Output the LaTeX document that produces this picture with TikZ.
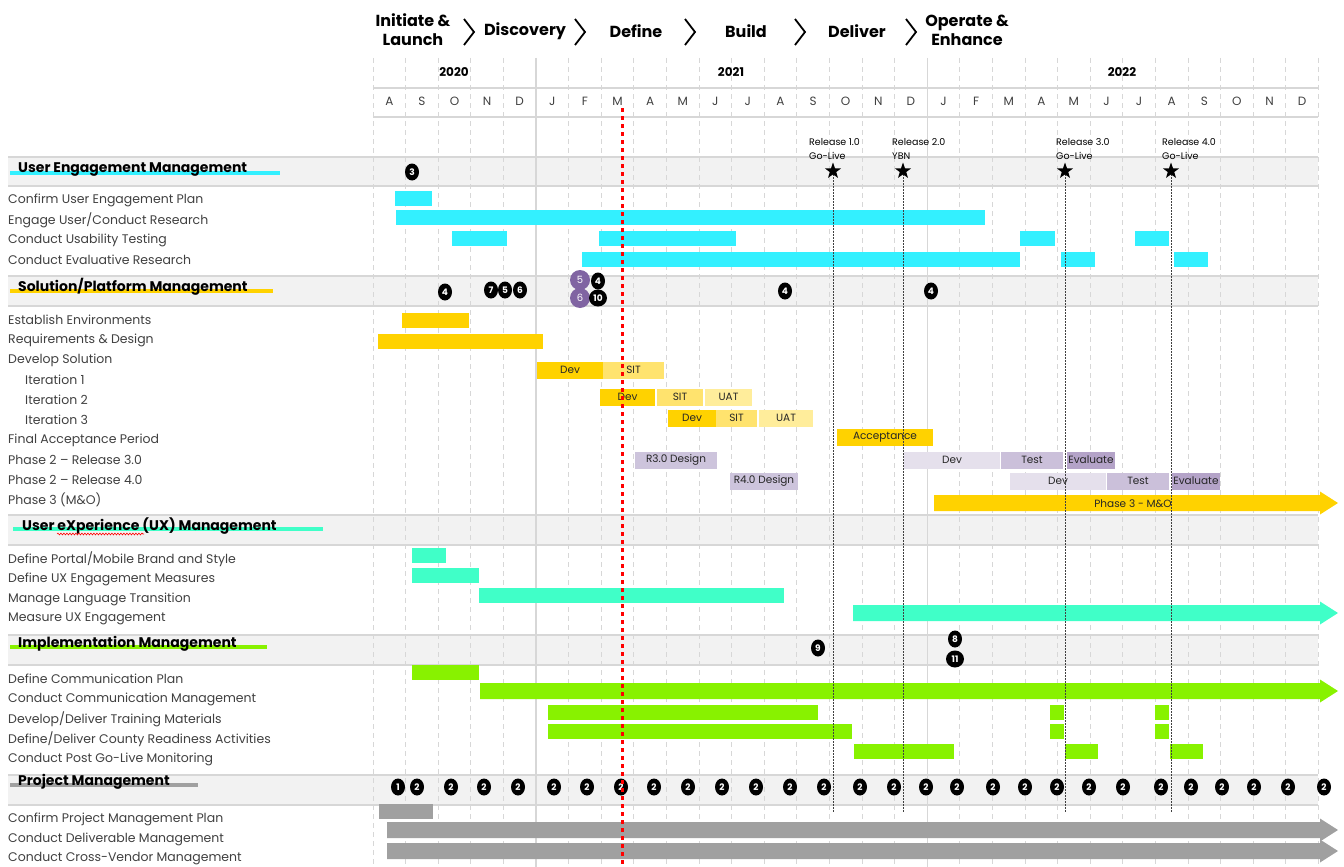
\documentclass[tikz,border=0pt]{standalone}
\usepackage{fontspec}
\setmainfont{Poppins}
\usetikzlibrary{shapes.geometric,decorations.pathmorphing}

\definecolor{uemcyan}{RGB}{51,240,255}
\definecolor{spmgold}{RGB}{255,210,0}
\definecolor{spmsit}{RGB}{255,227,110}
\definecolor{spmuat}{RGB}{255,237,155}
\definecolor{rdesign}{RGB}{205,196,220}
\definecolor{rdev}{RGB}{229,224,236}
\definecolor{rtest}{RGB}{203,192,218}
\definecolor{reval}{RGB}{180,163,200}
\definecolor{uxmint}{RGB}{64,255,200}
\definecolor{implime}{RGB}{136,242,0}
\definecolor{pmgray}{RGB}{160,160,160}
\definecolor{badgepurple}{RGB}{128,100,162}
\definecolor{bandgray}{RGB}{242,242,242}
\definecolor{gridgray}{RGB}{215,215,215}

% bars: colour, from, to, row centre
\newcommand{\taskbar}[4]{\fill[#1] (#2,#4-7.5) rectangle (#3,#4+7.5);}
\newcommand{\segbar}[5]{\fill[#1] (#2,#4-8.5) rectangle (#3,#4+8.5);
  \node[barlabel] at ({(#2+#3)/2},#4) {#5};}
\newcommand{\taskarrow}[3]{\fill[#1] (#2,#3-8) -- (1320,#3-8) -- (1320,#3-11.5)
  -- (1338,#3) -- (1320,#3+11.5) -- (1320,#3+8) -- (#2,#3+8) -- cycle;}

\tikzset{
  gridline/.style={gridgray,line width=0.8pt,dash pattern=on 5pt off 4pt},
  yearline/.style={gridgray,line width=1.2pt},
  bandline/.style={gridgray,line width=1.5pt},
  phaselabel/.style={font=\fontsize{16}{19}\selectfont\bfseries,align=center,inner sep=0pt},
  chevron/.style={line width=1.8pt,line join=miter},
  yearlabel/.style={font=\fontsize{12}{14}\selectfont\bfseries,inner sep=0pt},
  monthlabel/.style={font=\fontsize{12}{14}\selectfont,text=black!75,inner sep=0pt},
  tasklabel/.style={anchor=west,inner sep=0pt,font=\fontsize{12.5}{14}\selectfont,text=black!75},
  sectlabel/.style={anchor=west,inner sep=0pt,font=\fontsize{14}{16}\selectfont\bfseries},
  sectline/.style={line width=4pt},
  barlabel/.style={font=\fontsize{10.5}{12}\selectfont,text=black!85,inner sep=0pt},
  badge/.style={ellipse,fill=black,text=white,inner sep=0pt,minimum width=14pt,
    minimum height=17pt,font=\fontsize{9}{10}\selectfont\bfseries},
  widebadge/.style={badge,minimum width=18pt},
  purplebadge/.style={circle,fill=badgepurple,text=white,inner sep=0pt,
    minimum size=20pt,font=\fontsize{10}{11}\selectfont},
  relstar/.style={star,star points=5,star point ratio=2.5,fill=black,inner sep=0pt,minimum size=17pt},
  rellabel/.style={anchor=west,inner sep=0pt,align=left,font=\fontsize{9.5}{14}\selectfont},
  relline/.style={black!75,line width=0.8pt,dash pattern=on 2pt off 1pt},
  todayline/.style={red,line width=3pt,dash pattern=on 4pt off 4pt}
}

\begin{document}
\begin{tikzpicture}[x=1pt,y=-1pt]
  \useasboundingbox (0,0) rectangle (1344,867);

  % section bands
  \foreach \top/\bot in {157/186,276/306,515/545,635/665,775/805} {
    \fill[bandgray] (8,\top) rectangle (1318,\bot);
    \draw[bandline] (8,\top) -- (1318,\top) (8,\bot) -- (1318,\bot);
  }

  % month grid
  \foreach \m in {0,...,29}
    \draw[gridline] ({373+32.6*\m},58) -- ({373+32.6*\m},867);
  \draw[yearline] ({373+32.6*5},58) -- ({373+32.6*5},867);
  \draw[yearline] ({373+32.6*17},58) -- ({373+32.6*17},867);
  \draw[bandline] (373,88) -- (1318,88) (373,117) -- (1318,117);

  % phases
  \node[phaselabel] (initiate) at (413,30) {Initiate \&\\Launch};
  \node[phaselabel] (discovery) at (525,31) {Discovery};
  \node[phaselabel] (define) at (636,31) {Define};
  \node[phaselabel] (build) at (746,31) {Build};
  \node[phaselabel] (deliver) at (857,31) {Deliver};
  \node[phaselabel] (operate) at (967,30) {Operate \&\\Enhance};
  \foreach \x in {469,580,690,800,911}
    \draw[chevron] (\x-5,19) -- (\x+5,32) -- (\x-5,45);

  % years and months
  \node[yearlabel] (y2020) at (454,72) {2020};
  \node[yearlabel] (y2021) at (731,72) {2021};
  \node[yearlabel] (y2022) at (1122,72) {2022};
  \foreach \mo [count=\i from 0] in {A,S,O,N,D,J,F,M,A,M,J,J,A,S,O,N,D,J,F,M,A,M,J,J,A,S,O,N,D}
    \node[monthlabel] (m\i) at ({373+32.6*(\i+0.5)},101) {\mo};

  % section titles
  \draw[sectline,uemcyan] (10,173) -- (280,173);
  \node[sectlabel] (uem) at (18,170) {User Engagement Management};
  \draw[sectline,spmgold] (10,291) -- (273,291);
  \node[sectlabel] (spm) at (18,287) {Solution/Platform Management};
  \draw[sectline,uxmint] (13,529) -- (323,529);
  \node[sectlabel] (ux) at (22,526) {User eXperience (UX) Management};
  \draw[red,line width=0.6pt,decorate,decoration={snake,amplitude=0.9pt,segment length=3pt}]
    (57,534) -- (144,534);
  \draw[sectline,implime] (10,647) -- (267,647);
  \node[sectlabel] (impl) at (18,644) {Implementation Management};
  \draw[sectline,pmgray] (10,785) -- (198,785);
  \node[sectlabel] (pm) at (18,782) {Project Management};

  % task names
  \node[tasklabel] (uem1) at (8,200) {Confirm User Engagement Plan};
  \node[tasklabel] (uem2) at (8,220) {Engage User/Conduct Research};
  \node[tasklabel] (uem3) at (8,240) {Conduct Usability Testing};
  \node[tasklabel] (uem4) at (8,260) {Conduct Evaluative Research};
  \node[tasklabel] (spm1) at (8,320) {Establish Environments};
  \node[tasklabel] (spm2) at (8,340) {Requirements \& Design};
  \node[tasklabel] (spm3) at (8,360) {Develop Solution};
  \node[tasklabel] (spm4) at (25,380) {Iteration 1};
  \node[tasklabel] (spm5) at (25,400) {Iteration 2};
  \node[tasklabel] (spm6) at (25,420) {Iteration 3};
  \node[tasklabel] (spm7) at (8,440) {Final Acceptance Period};
  \node[tasklabel] (spm8) at (8,460) {Phase 2 – Release 3.0};
  \node[tasklabel] (spm9) at (8,480) {Phase 2 – Release 4.0};
  \node[tasklabel] (spm10) at (8,500) {Phase 3 (M\&O)};
  \node[tasklabel] (ux1) at (8,559) {Define Portal/Mobile Brand and Style};
  \node[tasklabel] (ux2) at (8,579) {Define UX Engagement Measures};
  \node[tasklabel] (ux3) at (8,599) {Manage Language Transition};
  \node[tasklabel] (ux4) at (8,619) {Measure UX Engagement};
  \node[tasklabel] (impl1) at (8,679) {Define Communication Plan};
  \node[tasklabel] (impl2) at (8,699) {Conduct Communication Management};
  \node[tasklabel] (impl3) at (8,719) {Develop/Deliver Training Materials};
  \node[tasklabel] (impl4) at (8,739) {Define/Deliver County Readiness Activities};
  \node[tasklabel] (impl5) at (8,759) {Conduct Post Go-Live Monitoring};
  \node[tasklabel] (pm1) at (8,819) {Confirm Project Management Plan};
  \node[tasklabel] (pm2) at (8,839) {Conduct Deliverable Management};
  \node[tasklabel] (pm3) at (8,859) {Conduct Cross-Vendor Management};

  % user engagement bars
  \taskbar{uemcyan}{395}{432}{198}
  \taskbar{uemcyan}{396}{985}{217}
  \taskbar{uemcyan}{452}{507}{238}
  \taskbar{uemcyan}{599}{736}{238}
  \taskbar{uemcyan}{1020}{1055}{238}
  \taskbar{uemcyan}{1135}{1169}{238}
  \taskbar{uemcyan}{582}{1020}{259}
  \taskbar{uemcyan}{1061}{1095}{259}
  \taskbar{uemcyan}{1174}{1208}{259}

  % solution/platform bars
  \taskbar{spmgold}{402}{469}{320}
  \taskbar{spmgold}{378}{543}{341}
  \segbar{spmgold}{537}{603}{370}{Dev}
  \segbar{spmsit}{603}{664}{370}{SIT}
  \segbar{spmgold}{600}{655}{397}{Dev}
  \segbar{spmsit}{657}{703}{397}{SIT}
  \segbar{spmuat}{705}{752}{397}{UAT}
  \segbar{spmgold}{668}{716}{418}{Dev}
  \segbar{spmsit}{716}{757}{418}{SIT}
  \segbar{spmuat}{759}{813}{418}{UAT}
  \segbar{spmgold}{837}{933}{437}{Acceptance}
  \segbar{rdesign}{635}{717}{460}{R3.0 Design}
  \segbar{rdev}{904}{1000}{460}{Dev}
  \segbar{rtest}{1001}{1063}{460}{Test}
  \segbar{reval}{1067}{1115}{460}{Evaluate}
  \segbar{rdesign}{730}{798}{481}{R4.0 Design}
  \segbar{rdev}{1010}{1106}{481}{Dev}
  \segbar{rtest}{1107}{1169}{481}{Test}
  \segbar{reval}{1172}{1220}{481}{Evaluate}
  \taskarrow{spmgold}{934}{503}
  \node[barlabel] (mando) at (1133,504) {Phase 3 - M\&O};

  % ux bars
  \taskbar{uxmint}{412}{446}{555}
  \taskbar{uxmint}{412}{479}{575}
  \taskbar{uxmint}{479}{784}{595}
  \taskarrow{uxmint}{853}{613}

  % implementation bars
  \taskbar{implime}{412}{479}{672}
  \taskarrow{implime}{480}{691}
  \taskbar{implime}{548}{818}{712}
  \taskbar{implime}{1050}{1064}{712}
  \taskbar{implime}{1155}{1169}{712}
  \taskbar{implime}{548}{852}{731}
  \taskbar{implime}{1050}{1064}{731}
  \taskbar{implime}{1155}{1169}{731}
  \taskbar{implime}{854}{954}{751}
  \taskbar{implime}{1065}{1098}{751}
  \taskbar{implime}{1170}{1203}{751}

  % project management bars
  \taskbar{pmgray}{379}{433}{811}
  \taskarrow{pmgray}{387}{830}
  \taskarrow{pmgray}{387}{851}

  % deliverable badges
  \node[badge] (d3) at (412,172) {3};
  \node[badge] (d4a) at (445,292) {4};
  \node[badge] (d7) at (491,290) {7};
  \node[badge] (d5) at (505,290) {5};
  \node[badge] (d6) at (520,290) {6};
  \node[purplebadge] (p5) at (580,280) {5};
  \node[badge] (d4b) at (598,281) {4};
  \node[purplebadge] (p6) at (580,298) {6};
  \node[widebadge] (d10) at (598,298) {10};
  \node[badge] (d4c) at (785,291) {4};
  \node[badge] (d4d) at (931,291) {4};
  \node[badge] (d9) at (818,648) {9};
  \node[badge] (d8) at (955,639) {8};
  \node[widebadge] (d11) at (955,659) {11};
  \node[badge] (d1) at (398,787) {1};
  \foreach \x [count=\i] in {417,451,484,518,554,587,621,654,688,722,756,790,824,860,
      894,926,957,993,1025,1057,1089,1123,1161,1191,1222,1254,1288,1324}
    \node[badge] (pm\i) at (\x,787) {2};

  % releases
  \node[rellabel] (r1) at (809,149) {Release 1.0\\Go-Live};
  \node[rellabel] (r2) at (892,149) {Release 2.0\\YBN};
  \node[rellabel] (r3) at (1056,149) {Release 3.0\\Go-Live};
  \node[rellabel] (r4) at (1162,149) {Release 4.0\\Go-Live};
  \coordinate (rel1end) at (833,812);
  \coordinate (rel2end) at (903,812);
  \coordinate (rel3end) at (1065,812);
  \coordinate (rel4end) at (1171,812);
  \draw[relline] (833,171) -- (rel1end);
  \draw[relline] (903,171) -- (rel2end);
  \draw[relline] (1065,171) -- (rel3end);
  \draw[relline] (1171,171) -- (rel4end);
  \node[relstar] (rel1) at (833,171) {};
  \node[relstar] (rel2) at (903,171) {};
  \node[relstar] (rel3) at (1065,171) {};
  \node[relstar] (rel4) at (1171,171) {};

  % today
  \coordinate (today top) at (622,108);
  \coordinate (today bottom) at (622,867);
  \draw[todayline] (today top) -- (today bottom);
\end{tikzpicture}
\end{document}
